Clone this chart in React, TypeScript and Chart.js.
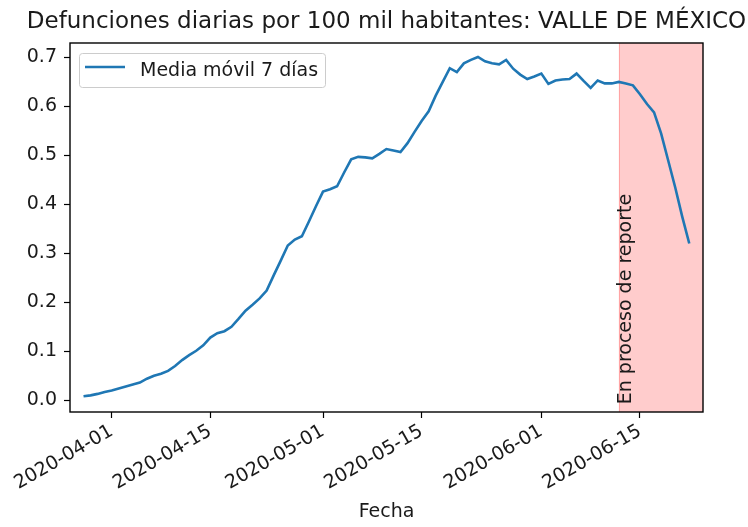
import React, { useEffect, useRef } from 'react';
import { Chart, registerables } from 'chart.js';

Chart.register(...registerables);

const TITLE = 'Defunciones diarias por 100 mil habitantes: VALLE DE MÉXICO';
const X_TITLE = 'Fecha';
const SERIES_LABEL = 'Media móvil 7 días';
const REPORT_LABEL = 'En proceso de reporte';

const FIRST_DATE = '2020-03-28';
const REPORT_START = '2020-06-12';
const X_MIN_DATE = '2020-03-26';
const X_MAX_DATE = '2020-06-24';
const X_TICK_DATES = ['2020-04-01', '2020-04-15', '2020-05-01', '2020-05-15', '2020-06-01', '2020-06-15'];
const Y_TICKS = [0, 0.1, 0.2, 0.3, 0.4, 0.5, 0.6, 0.7];
const Y_MIN = -0.024;
const Y_MAX = 0.7295;

const marchValues = [0.008, 0.010, 0.013, 0.017];
const aprilValues = [
  0.020, 0.024, 0.028, 0.032, 0.036, 0.044, 0.050, 0.054, 0.060, 0.070,
  0.082, 0.092, 0.101, 0.112, 0.128, 0.137, 0.141, 0.150, 0.166, 0.183,
  0.195, 0.208, 0.224, 0.255, 0.285, 0.316, 0.328, 0.335, 0.365, 0.396,
];
const mayValues = [
  0.426, 0.431, 0.437, 0.465, 0.492, 0.497, 0.496, 0.494, 0.503, 0.513,
  0.510, 0.507, 0.525, 0.548, 0.570, 0.590, 0.622, 0.650, 0.678, 0.670,
  0.688, 0.695, 0.701, 0.692, 0.688, 0.686, 0.695, 0.677, 0.665, 0.656, 0.661,
];
const juneValues = [
  0.667, 0.646, 0.653, 0.655, 0.656, 0.667, 0.652, 0.638, 0.653, 0.647,
  0.647, 0.650, 0.647, 0.643, 0.625, 0.605, 0.588, 0.545, 0.490, 0.435,
  0.375, 0.320,
];

const DAY = 86400000;
const toDay = (s: string) => {
  const [y, m, d] = s.split('-').map(Number);
  return Date.UTC(y, m - 1, d) / DAY;
};
const fmtDay = (v: number) => new Date(Math.round(v) * DAY).toISOString().slice(0, 10);

const FONT = "'DejaVu Sans', sans-serif";
const TEXT_COLOR = '#1a1a1a';
const LINE_COLOR = '#1f77b4';
const FS = 19;

export default function App() {
  const ref = useRef<HTMLCanvasElement | null>(null);

  useEffect(() => {
    if (!ref.current) return;
    const values = [...marchValues, ...aprilValues, ...mayValues, ...juneValues];
    const start = toDay(FIRST_DATE);
    const points = values.map((v, i) => ({ x: start + i, y: v }));

    const decor = {
      id: 'decor',
      beforeDatasetsDraw(chart: any) {
        const { ctx, chartArea, scales } = chart;
        const x0 = scales.x.getPixelForValue(toDay(REPORT_START));
        ctx.save();
        ctx.fillStyle = 'rgba(255,0,0,0.2)';
        ctx.fillRect(x0, chartArea.top, chartArea.right - x0, chartArea.bottom - chartArea.top);
        ctx.strokeStyle = 'rgba(255,0,0,0.2)';
        ctx.lineWidth = 1;
        ctx.beginPath();
        ctx.moveTo(Math.round(x0) + 0.5, chartArea.top);
        ctx.lineTo(Math.round(x0) + 0.5, chartArea.bottom);
        ctx.stroke();
        const y0 = scales.y.getPixelForValue(0);
        ctx.translate(x0 + 12, y0 + 4);
        ctx.rotate(-Math.PI / 2);
        ctx.fillStyle = TEXT_COLOR;
        ctx.font = `${FS}px ${FONT}`;
        ctx.textAlign = 'left';
        ctx.textBaseline = 'alphabetic';
        ctx.fillText(REPORT_LABEL, 0, 0);
        ctx.restore();
      },
      afterDraw(chart: any) {
        const { ctx, chartArea } = chart;
        ctx.save();
        ctx.strokeStyle = '#000';
        ctx.lineWidth = 1.4;
        ctx.strokeRect(
          Math.round(chartArea.left),
          Math.round(chartArea.top),
          Math.round(chartArea.right - chartArea.left),
          Math.round(chartArea.bottom - chartArea.top)
        );
        const cx = (chartArea.left + chartArea.right) / 2;
        ctx.fillStyle = TEXT_COLOR;
        ctx.textAlign = 'center';
        ctx.textBaseline = 'alphabetic';
        ctx.font = `23px ${FONT}`;
        ctx.fillText(TITLE, cx, 28);
        ctx.font = `${FS}px ${FONT}`;
        ctx.fillText(X_TITLE, cx, 517);
        // legend
        const lx = chartArea.left + 9;
        const ly = chartArea.top + 10;
        const lw = 246;
        const lh = 34;
        ctx.beginPath();
        (ctx as any).roundRect(lx + 0.5, ly + 0.5, lw, lh, 3);
        ctx.fillStyle = 'rgba(255,255,255,0.8)';
        ctx.fill();
        ctx.strokeStyle = 'rgba(204,204,204,1)';
        ctx.lineWidth = 1;
        ctx.stroke();
        ctx.beginPath();
        ctx.strokeStyle = LINE_COLOR;
        ctx.lineWidth = 2.6;
        ctx.moveTo(lx + 6, ly + 14);
        ctx.lineTo(lx + 46, ly + 14);
        ctx.stroke();
        ctx.fillStyle = TEXT_COLOR;
        ctx.textAlign = 'left';
        ctx.textBaseline = 'alphabetic';
        ctx.font = `${FS}px ${FONT}`;
        ctx.fillText(SERIES_LABEL, lx + 61, ly + 23);
        ctx.restore();
      },
    };

    const chart = new Chart(ref.current, {
      type: 'line',
      data: {
        datasets: [
          {
            label: SERIES_LABEL,
            data: points,
            borderColor: LINE_COLOR,
            backgroundColor: LINE_COLOR,
            borderWidth: 2.6,
            pointRadius: 0,
            tension: 0,
            fill: false,
          },
        ],
      },
      options: {
        animation: false,
        responsive: false,
        maintainAspectRatio: false,
        layout: { padding: { top: 43, right: 45, left: 0, bottom: 0 } },
        plugins: {
          legend: { display: false },
          title: { display: false },
          tooltip: { enabled: false },
        },
        scales: {
          x: {
            type: 'linear',
            min: toDay(X_MIN_DATE) + 0.08,
            max: toDay(X_MAX_DATE) - 0.05,
            afterBuildTicks: (s: any) => {
              s.ticks = X_TICK_DATES.map((d) => ({ value: toDay(d) }));
            },
            afterFit: (s: any) => {
              s.height = 115;
            },
            grid: { drawOnChartArea: false, drawTicks: true, tickLength: 6, tickColor: '#000', tickWidth: 1.2 },
            border: { display: false },
            ticks: {
              autoSkip: false,
              minRotation: 30,
              maxRotation: 30,
              padding: 2,
              color: TEXT_COLOR,
              font: { family: FONT, size: FS },
              callback: (v: any) => fmtDay(Number(v)),
            },
          },
          y: {
            type: 'linear',
            min: Y_MIN,
            max: Y_MAX,
            afterBuildTicks: (s: any) => {
              s.ticks = Y_TICKS.map((v) => ({ value: v }));
            },
            afterFit: (s: any) => {
              s.width = 70;
            },
            grid: { drawOnChartArea: false, drawTicks: true, tickLength: 6, tickColor: '#000', tickWidth: 1.2 },
            border: { display: false },
            ticks: {
              padding: 7,
              color: TEXT_COLOR,
              font: { family: FONT, size: FS },
              callback: (v: any) => Number(v).toFixed(1),
            },
          },
        },
      },
      plugins: [decor],
    } as any);

    return () => chart.destroy();
  }, []);

  return (
    <div style={{ position: 'fixed', left: 0, top: 0, width: 748, height: 527, background: '#fff' }}>
      <canvas ref={ref} width={748} height={527} style={{ display: 'block', width: 748, height: 527 }} />
    </div>
  );
}
